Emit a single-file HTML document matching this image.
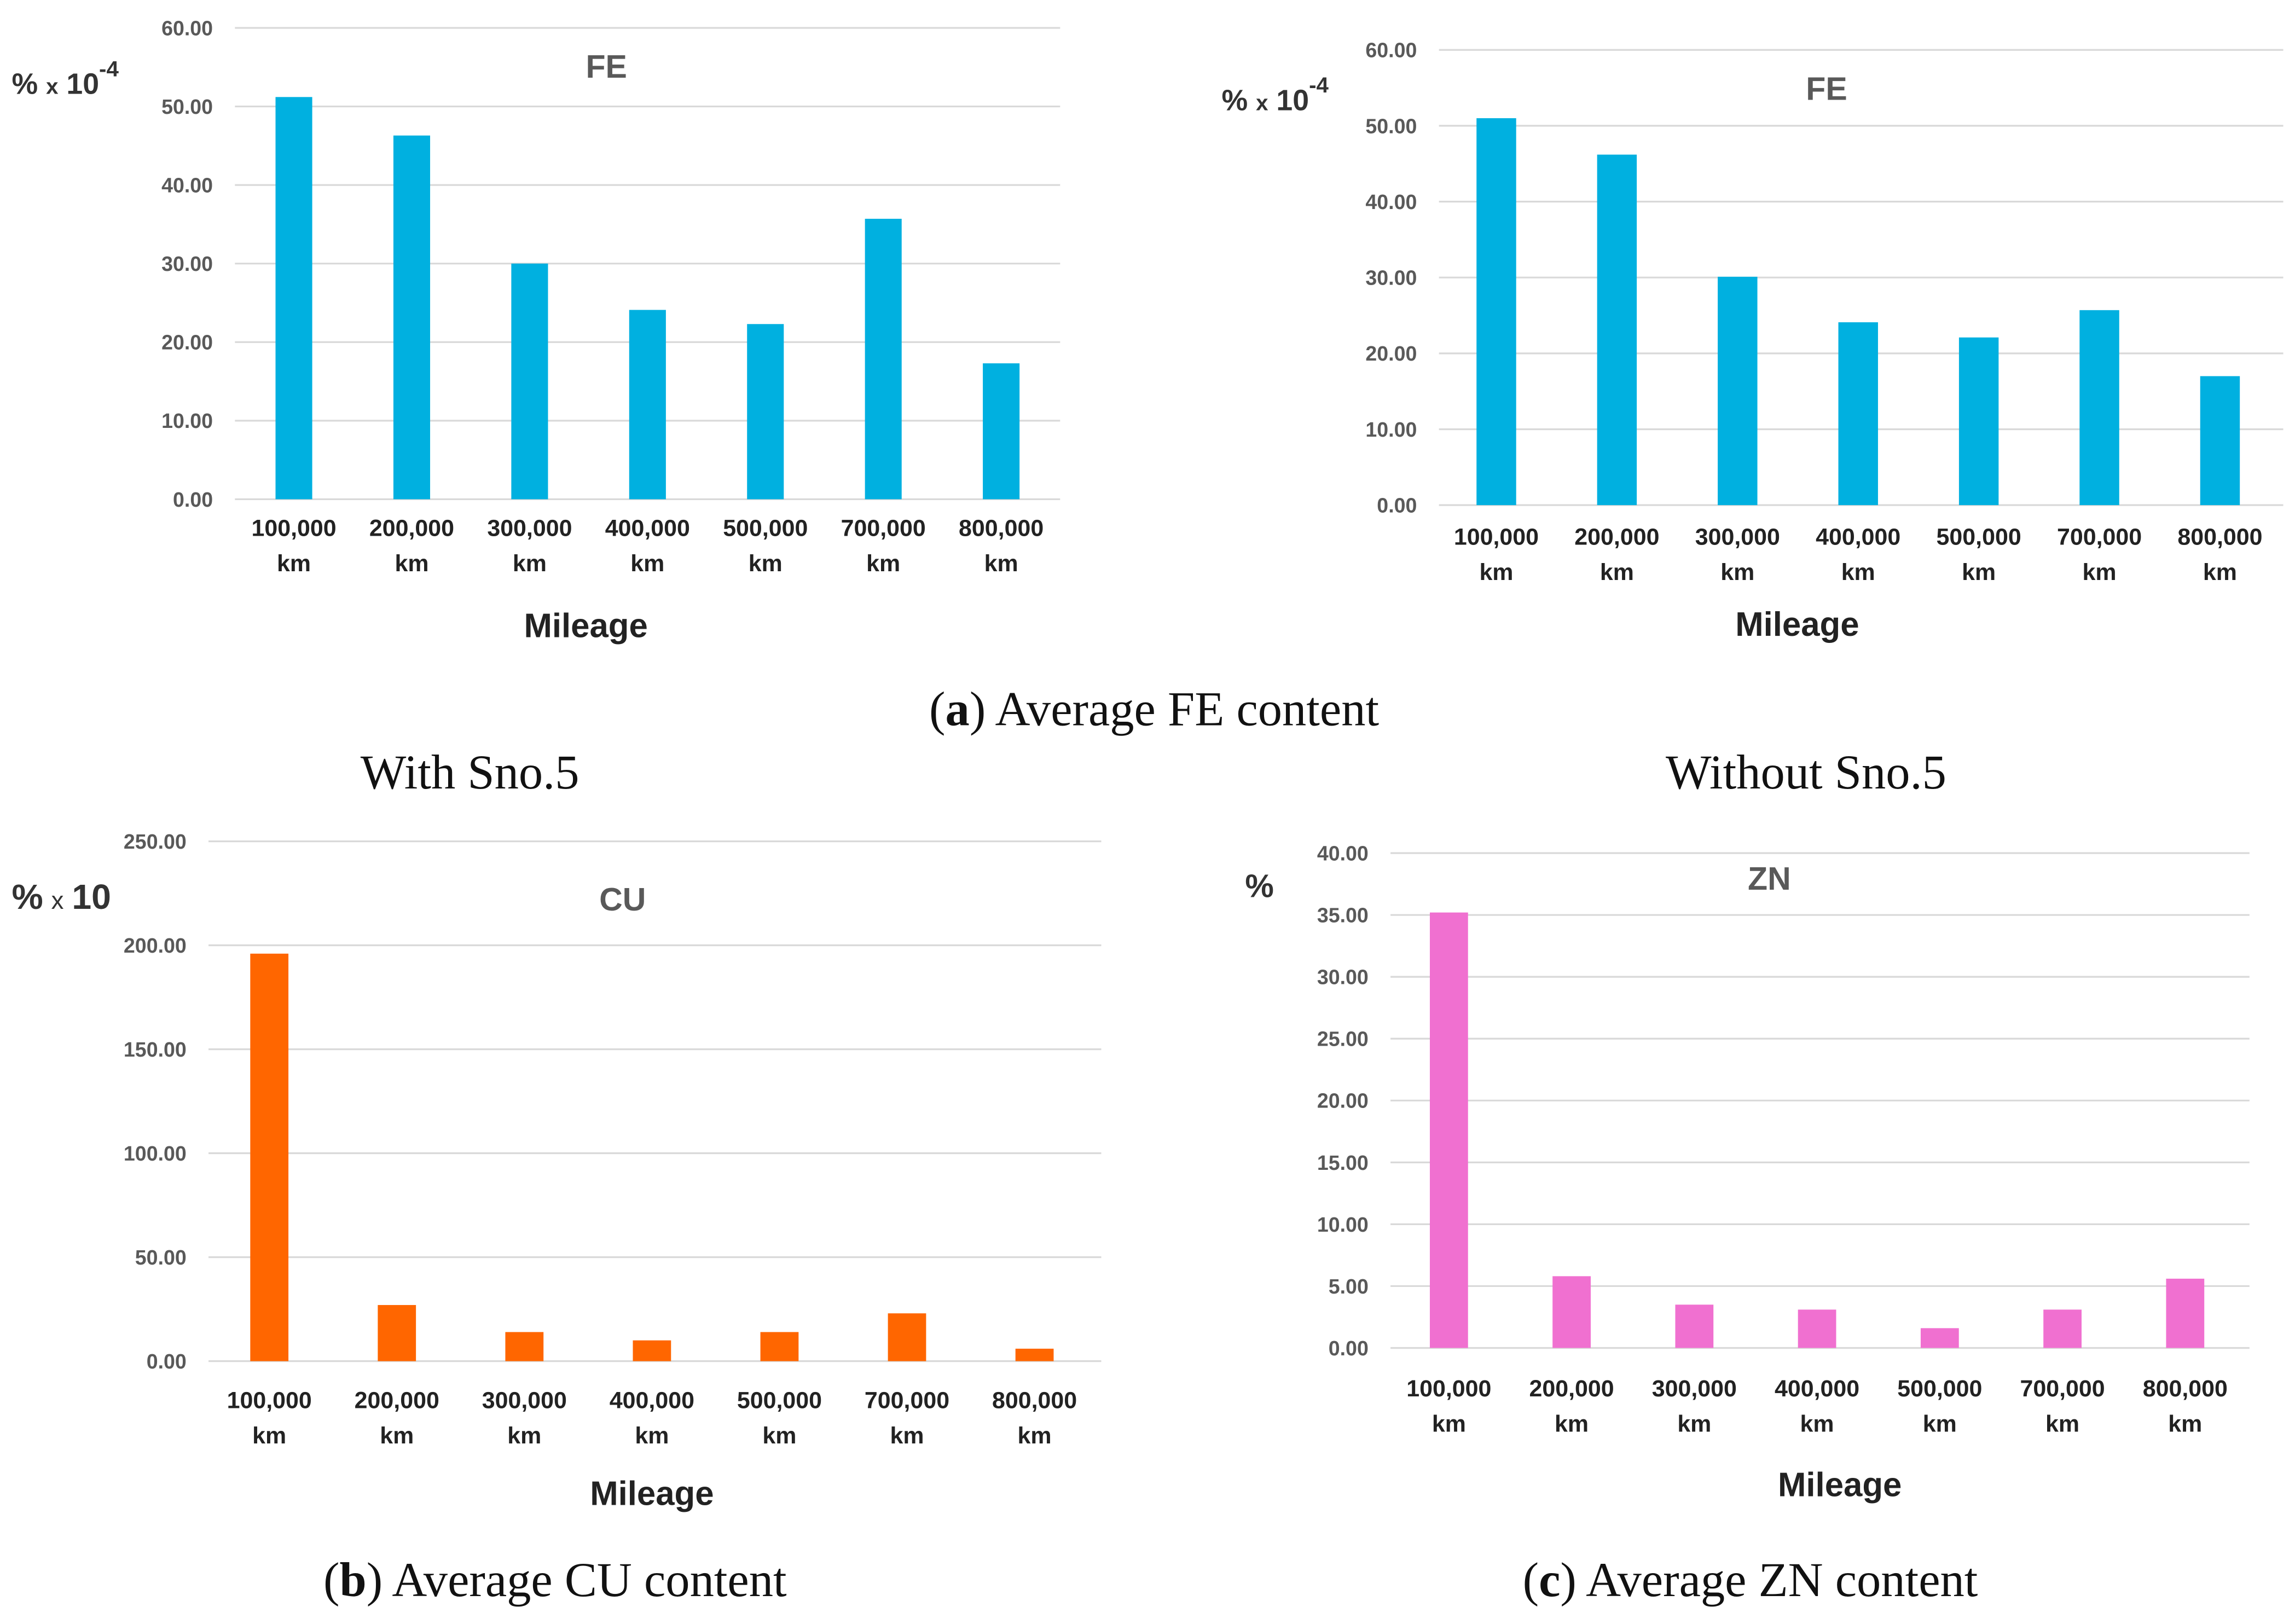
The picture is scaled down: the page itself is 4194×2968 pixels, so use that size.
<!DOCTYPE html>
<html><head><meta charset="utf-8">
<style>
html,body{margin:0;padding:0;background:#fff;}
svg{display:block;}
text{font-family:"Liberation Sans","DejaVu Sans",sans-serif;}
.tick{font-size:14px;font-weight:bold;fill:#595959;text-anchor:end;}
.xl{font-size:16px;font-weight:bold;fill:#222;text-anchor:middle;}
.ax{font-size:23px;font-weight:bold;fill:#222;text-anchor:middle;}
.ttl{font-size:22px;font-weight:bold;fill:#595959;text-anchor:middle;}
.unit{font-size:20px;font-weight:bold;fill:#333;}
.cap{font-family:"Liberation Serif",serif;font-size:33px;fill:#111;text-anchor:middle;}
</style></head>
<body>
<svg id="fig" width="4194" height="2968" viewBox="0 0 1563 1106" preserveAspectRatio="none" xmlns="http://www.w3.org/2000/svg">
<text class="cap" x="786" y="494">(<tspan font-weight="bold">a</tspan>) Average FE content</text>
<text class="cap" x="320" y="537">With Sno.5</text>
<text class="cap" x="1230" y="537">Without Sno.5</text>
<text class="cap" x="378" y="1087">(<tspan font-weight="bold">b</tspan>) Average CU content</text>
<text class="cap" x="1192" y="1087">(<tspan font-weight="bold">c</tspan>) Average ZN content</text>
</svg>
<script>
const categories = ["100,000","200,000","300,000","400,000","500,000","700,000","800,000"];
const feWithValues = [51.2,46.3,30.0,24.1,22.3,35.7,17.3];
const feWithoutValues = [51.0,46.2,30.1,24.1,22.1,25.7,17.0];
const cuValues = [196,27,14,10,14,23,6];
const znValues = [35.2,5.8,3.5,3.1,1.6,3.1,5.6];
const feTicks = [0,10,20,30,40,50,60];
const cuTicks = [0,50,100,150,200,250];
const znTicks = [0,5,10,15,20,25,30,35,40];

const svg = document.getElementById('fig');
const NS = 'http://www.w3.org/2000/svg';
function mk(tag, attrs, parent, text){
  const e = document.createElementNS(NS, tag);
  for (const k in attrs) e.setAttribute(k, attrs[k]);
  if (text !== undefined) e.textContent = text;
  (parent||svg).appendChild(e);
  return e;
}
function chart(cfg){
  const g = mk('g', {});
  
  
  const max = cfg.ticks[cfg.ticks.length-1];
  const y = v => cfg.y0 - (v/max)*(cfg.y0-cfg.y1);
  const step = (cfg.x1-cfg.x0)/categories.length;
  const xc = i => cfg.x0 + step*(i+0.5) + cfg.shift;
  cfg.ticks.forEach(t=>{
    const l = mk('line',{x1:cfg.x0,x2:cfg.x1,y1:y(t),y2:y(t),stroke:'#d9d9d9','stroke-width':1.2},g);
    
    
    const tx = mk('text',{class:'tick',x:cfg.x0-15,y:y(t)+5},g,t.toFixed(2));
    
    
  });
  cfg.values.forEach((v,i)=>{
    const r = mk('rect',{x:xc(i)-cfg.bw/2,y:y(v),width:cfg.bw,height:y(0)-y(v),fill:cfg.color},g);
    
    
    const a = mk('text',{class:'xl',x:xc(i),y:cfg.y0+cfg.lab1},g,categories[i]);
    
    
    const b = mk('text',{class:'xl',x:xc(i),y:cfg.y0+cfg.lab1+24},g,'km');
    
    
  });
  const t = mk('text',{class:'ttl',x:cfg.tx,y:cfg.ty},g,cfg.title);
  
  
  const m = mk('text',{class:'ax',x:cfg.mx,y:cfg.my},g,'Mileage');
  
  
  const u = mk('text',{class:'unit',x:cfg.ux,y:cfg.uy},g);
  
  
  u.innerHTML = cfg.unit;
}
chart({name:'fe-with-chart',x0:160,x1:722,y0:340,y1:19,ticks:feTicks,values:feWithValues,color:'#00b0e0',bw:25,shift:0,lab1:25,title:'FE',tx:413,ty:53,mx:399,my:434,ux:8,uy:64,
  unit:'% <tspan font-size="15">x</tspan> 10<tspan font-size="15" dy="-12">-4</tspan>'});
chart({name:'fe-without-chart',x0:980,x1:1555,y0:344,y1:34,ticks:feTicks,values:feWithoutValues,color:'#00b0e0',bw:27,shift:-2,lab1:27,title:'FE',tx:1244,ty:68,mx:1224,my:433,ux:832,uy:75,
  unit:'% <tspan font-size="15">x</tspan> 10<tspan font-size="15" dy="-12">-4</tspan>'});
chart({name:'cu-chart',x0:142,x1:750,y0:927,y1:573,ticks:cuTicks,values:cuValues,color:'#ff6600',bw:26,shift:-2,lab1:32,title:'CU',tx:424,ty:620,mx:444,my:1025,ux:8,uy:619,
  unit:'<tspan font-size="24">%</tspan> <tspan font-size="17" font-weight="normal">x</tspan> <tspan font-size="24">10</tspan>'});
chart({name:'zn-chart',x0:947,x1:1532,y0:918,y1:581,ticks:znTicks,values:znValues,color:'#f070d0',bw:26,shift:-2,lab1:33,title:'ZN',tx:1205,ty:606,mx:1253,my:1019,ux:848,uy:611,
  unit:'<tspan font-size="22">%</tspan>'});
</script>
</body></html>
